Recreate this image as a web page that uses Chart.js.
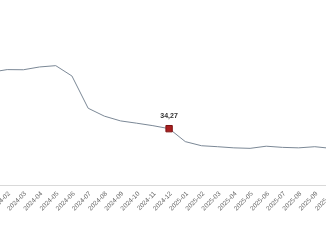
<!DOCTYPE html>
<html>
<head>
<meta charset="utf-8">
<script src="https://cdn.jsdelivr.net/npm/chart.js@4/dist/chart.umd.min.js"></script>
<style>
  html, body { margin: 0; padding: 0; background: #fff; overflow: hidden; width: 326px; height: 245px; }
  #wrap { position: absolute; left: -9px; top: 0; width: 340px; height: 245px; }
</style>
</head>
<body>
<div id="wrap"><canvas id="c" width="340" height="245"></canvas></div>
<script>
const categories = ["2024-01","2024-02","2024-03","2024-04","2024-05","2024-06","2024-07","2024-08","2024-09","2024-10","2024-11","2024-12",
  "2025-01","2025-02","2025-03","2025-04","2025-05","2025-06","2025-07","2025-08","2025-09","2025-10"];
const values = [68.6, 70.2, 70.1, 71.8, 72.6, 66.3, 46.7, 41.9, 39.0, 37.6, 36.1, 34.27,
  26.4, 23.9, 23.3, 22.6, 22.3, 23.6, 22.9, 22.6, 23.3, 22.3];
const highlightIndex = 11;
const highlightLabel = "34,27";

const labelPlugin = {
  id: 'hlLabel',
  afterDatasetsDraw(chart) {
    const meta = chart.getDatasetMeta(0);
    const pt = meta.data[highlightIndex];
    if (!pt) return;
    const ctx = chart.ctx;
    ctx.save();
    ctx.font = 'bold 7px "Liberation Sans", Arial, sans-serif';
    ctx.fillStyle = '#333';
    ctx.textAlign = 'center';
    ctx.textBaseline = 'middle';
    ctx.fillText(highlightLabel, pt.x, pt.y - 13);
    ctx.restore();
  }
};

new Chart(document.getElementById('c'), {
  type: 'line',
  data: {
    labels: categories,
    datasets: [{
      data: values,
      borderColor: '#7b8896',
      borderWidth: 1,
      tension: 0,
      fill: false,
      pointStyle: 'rect',
      pointRadius: ctx => ctx.dataIndex === highlightIndex ? 4.5 : 0,
      pointHoverRadius: ctx => ctx.dataIndex === highlightIndex ? 4.5 : 0,
      pointBackgroundColor: '#a81f1f',
      pointBorderColor: '#7d1212',
      pointBorderWidth: 1
    }]
  },
  options: {
    responsive: false,
    animation: false,
    events: [],
    layout: { padding: { top: 20.6, bottom: 27.6, left: 0, right: 0 } },
    plugins: { legend: { display: false }, tooltip: { enabled: false } },
    scales: {
      x: {
        offset: false,
        grid: { display: true, color: 'rgba(0,0,0,0)', drawOnChartArea: false, drawTicks: false },
        border: { display: true, color: '#d9d9d9', width: 1 },
        ticks: {
          autoSkip: false,
          minRotation: 45,
          maxRotation: 45,
          padding: 5,
          labelOffset: 2,
          color: '#666',
          font: { size: 6.5, family: '"Liberation Sans", Arial, sans-serif' }
        },
        afterFit(scale) { scale.paddingLeft = 0; scale.paddingRight = 0; }
      },
      y: {
        display: false,
        min: 0,
        max: 100
      }
    }
  },
  plugins: [labelPlugin]
});
</script>
</body>
</html>
